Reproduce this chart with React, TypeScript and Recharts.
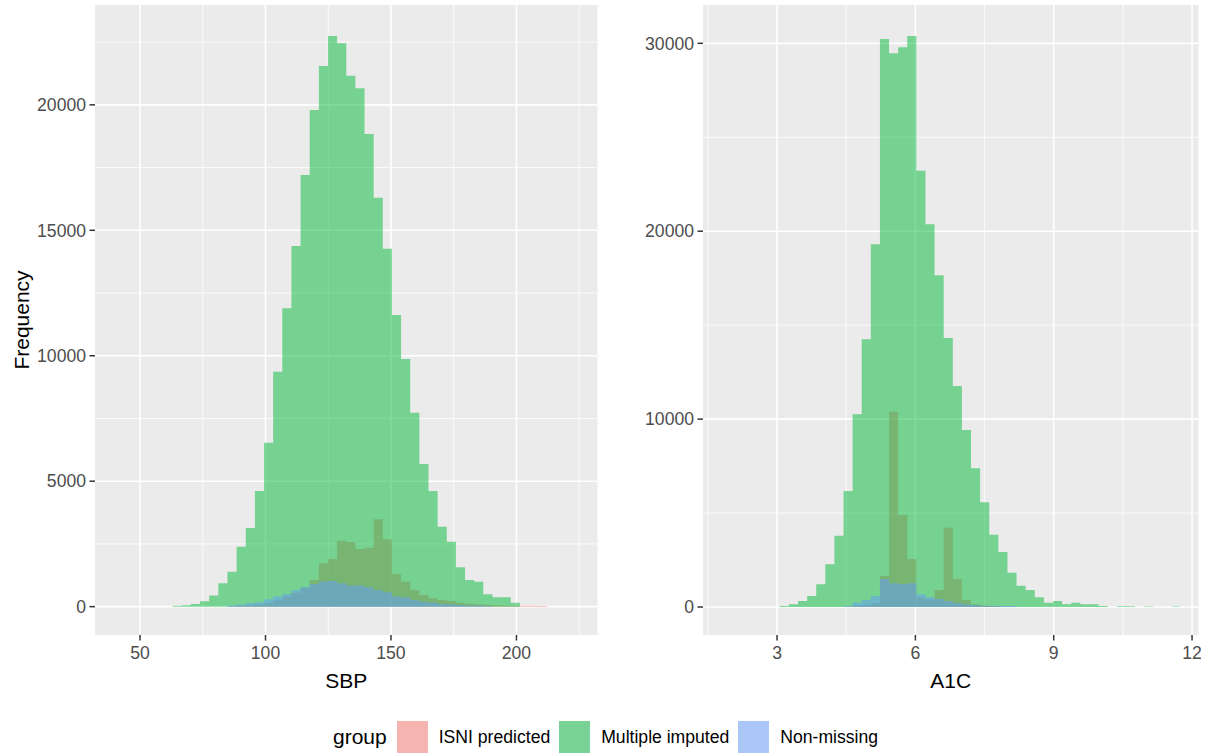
import React from "react";
import { AreaChart, Area, XAxis, YAxis, CartesianGrid } from "recharts";

// SBP histogram: bins start at sbpFirstEdge, width sbpBinWidth
const sbpFirstEdge = 63.0;
const sbpBinWidth = 3.641;
const sbpIsni = [
  0, 0, 0, 0, 0, 0, 20, 40, 60, 100, 150, 250, 400, 550, 750, 1064, 1730, 1900, 2631, 2579, 2300,
  2352, 3483, 2686, 1291, 997, 666, 466, 335, 267, 227, 160, 120, 100, 80, 60, 50, 40, 40, 40, 30,
];
const sbpImputed = [
  40, 60, 110, 214, 440, 932, 1395, 2391, 3137, 4611, 6537, 9366, 11893, 14376, 17206, 19797, 21550,
  22745, 22455, 21164, 20662, 18840, 16301, 14269, 11626, 9873, 7732, 5688, 4611, 3189, 2591, 1570,
  1064, 997, 494, 375, 375, 160, 0, 0, 0,
];
const sbpNonMissing = [
  0, 0, 0, 0, 0, 0, 41, 81, 134, 174, 294, 400, 506, 666, 772, 905, 998, 1024, 931, 838, 838, 772,
  666, 573, 400, 373, 267, 200, 161, 108, 94, 68, 41, 41, 20, 0, 0, 0, 0, 0, 0,
];

// A1C histogram
const a1cFirstEdge = 3.059;
const a1cBinWidth = 0.1975;
const a1cIsni = [
  0, 0, 0, 0, 0, 0, 0, 0, 50, 100, 200, 1650, 10394, 4896, 2555, 500, 400, 905, 4220, 1490, 373, 150,
  80, 50, 0, 0, 0, 0, 0, 0, 0, 0, 0, 0, 0, 0, 0, 0, 0, 0, 0, 0, 0, 0,
];
const a1cImputed = [
  53, 142, 319, 585, 1206, 2271, 3797, 6173, 10255, 14247, 19302, 30229, 29467, 29787, 30389, 23220,
  20367, 17653, 14316, 11762, 9420, 7381, 5572, 3848, 2927, 1827, 1136, 905, 514, 231, 319, 142, 231,
  142, 142, 60, 0, 40, 40, 0, 30, 0, 0, 30,
];
const a1cNonMissing = [
  0, 0, 0, 0, 0, 0, 0, 53, 231, 373, 585, 1490, 1259, 1224, 1259, 675, 514, 426, 319, 231, 142, 107,
  53, 53, 53, 53, 0, 0, 0, 0, 0, 0, 0, 0, 0, 0, 0, 0, 0, 0, 0, 0, 0, 0,
];

const sbpTicks = [50, 100, 150, 200];
const sbpMinorTicks = [75, 125, 175, 225];
const sbpFreqTicks = [0, 5000, 10000, 15000, 20000];
const sbpFreqMinorTicks = [2500, 7500, 12500, 17500, 22500];
const a1cTicks = [3, 6, 9, 12];
const a1cMinorTicks = [1.5, 4.5, 7.5, 10.5];
const a1cFreqTicks = [0, 10000, 20000, 30000];
const a1cFreqMinorTicks = [5000, 15000, 25000];

const groups = ["ISNI predicted", "Multiple imputed", "Non-missing"];
const groupKeys = ["isni", "imputed", "nonMissing"];
const groupColors = ["#F8766D", "#00BA38", "#619CFF"];
const keyColors = ["#F5B4AF", "#79D295", "#AAC7F8"];

const font = "'Liberation Sans', Arial, sans-serif";

function buildRows(first: number, width: number, isni: number[], imputed: number[], nonMissing: number[]) {
  const rows = isni.map((_, i) => ({
    x: first + i * width,
    isni: isni[i],
    imputed: imputed[i],
    nonMissing: nonMissing[i],
  }));
  rows.push({ x: first + isni.length * width, isni: 0, imputed: 0, nonMissing: 0 });
  return rows;
}

const sbpRows = buildRows(sbpFirstEdge, sbpBinWidth, sbpIsni, sbpImputed, sbpNonMissing);
const a1cRows = buildRows(a1cFirstEdge, a1cBinWidth, a1cIsni, a1cImputed, a1cNonMissing);

type PanelProps = {
  rows: any[];
  width: number;
  xDomain: [number, number];
  yDomain: [number, number];
  xTicks: number[];
  xMinor: number[];
  yTicks: number[];
  yMinor: number[];
  xLabel: string;
  yLabel?: string;
};

function Panel({ rows, width, xDomain, yDomain, xTicks, xMinor, yTicks, yMinor, xLabel, yLabel }: PanelProps) {
  const tickStyle = { fill: "#4D4D4D", fontSize: 17.6, fontFamily: font };
  return (
    <AreaChart width={width} height={700} data={rows} margin={{ top: 5, right: 2.5, bottom: 5, left: 0 }}>
      <CartesianGrid
        fill="#EBEBEB"
        stroke="#FFFFFF"
        strokeWidth={0.8}
        horizontalValues={yMinor}
        verticalValues={xMinor}
      />
      <CartesianGrid stroke="#FFFFFF" strokeWidth={1.6} horizontalValues={yTicks} verticalValues={xTicks} />
      <XAxis
        type="number"
        dataKey="x"
        domain={xDomain}
        ticks={xTicks}
        interval={0}
        allowDataOverflow
        height={60}
        axisLine={false}
        tickSize={5.5}
        tickMargin={6}
        tickLine={{ stroke: "#333333", strokeWidth: 1.5 }}
        tick={tickStyle}
        label={{
          value: xLabel,
          position: "insideBottom",
          offset: 7,
          style: { fill: "#000000", fontSize: 21, fontFamily: font },
        }}
      />
      <YAxis
        type="number"
        domain={yDomain}
        ticks={yTicks}
        interval={0}
        allowDataOverflow
        width={95}
        axisLine={false}
        tickSize={5.5}
        tickMargin={3.5}
        tickLine={{ stroke: "#333333", strokeWidth: 1.5 }}
        tick={tickStyle}
        label={
          yLabel
            ? {
                value: yLabel,
                angle: -90,
                position: "insideLeft",
                offset: 22,
                style: { fill: "#000000", fontSize: 21, fontFamily: font, textAnchor: "middle" },
              }
            : undefined
        }
      />
      {groupKeys.map((key, i) => (
        <Area
          key={key}
          type="stepAfter"
          dataKey={key}
          name={groups[i]}
          fill={groupColors[i]}
          fillOpacity={0.5}
          stroke="none"
          baseValue={0}
          dot={false}
          activeDot={false}
          isAnimationActive={false}
        />
      ))}
    </AreaChart>
  );
}

export default function App() {
  return (
    <div
      style={{
        position: "absolute",
        left: 0,
        top: 0,
        width: 1208,
        height: 753,
        background: "#FFFFFF",
        fontFamily: font,
      }}
    >
      <div style={{ position: "absolute", left: 0, top: 0 }}>
        <Panel
          rows={sbpRows}
          width={600}
          xDomain={[32.05, 232.3]}
          yDomain={[-1130, 23980]}
          xTicks={sbpTicks}
          xMinor={sbpMinorTicks}
          yTicks={sbpFreqTicks}
          yMinor={sbpFreqMinorTicks}
          xLabel="SBP"
          yLabel="Frequency"
        />
      </div>
      <div style={{ position: "absolute", left: 608, top: 0 }}>
        <Panel
          rows={a1cRows}
          width={593}
          xDomain={[1.394, 12.14]}
          yDomain={[-1490, 32040]}
          xTicks={a1cTicks}
          xMinor={a1cMinorTicks}
          yTicks={a1cFreqTicks}
          yMinor={a1cFreqMinorTicks}
          xLabel="A1C"
        />
      </div>
      <div
        style={{
          position: "absolute",
          left: 333,
          top: 721,
          height: 32,
          display: "flex",
          alignItems: "center",
          whiteSpace: "nowrap",
        }}
      >
        <span style={{ fontSize: 21, color: "#000000", marginRight: 10 }}>group</span>
        {groups.map((g, i) => (
          <React.Fragment key={g}>
            <span
              style={{ display: "inline-block", width: 31, height: 32, background: keyColors[i], marginRight: 11 }}
            />
            <span style={{ fontSize: 17.6, color: "#000000", marginRight: 9 }}>{g}</span>
          </React.Fragment>
        ))}
      </div>
    </div>
  );
}
